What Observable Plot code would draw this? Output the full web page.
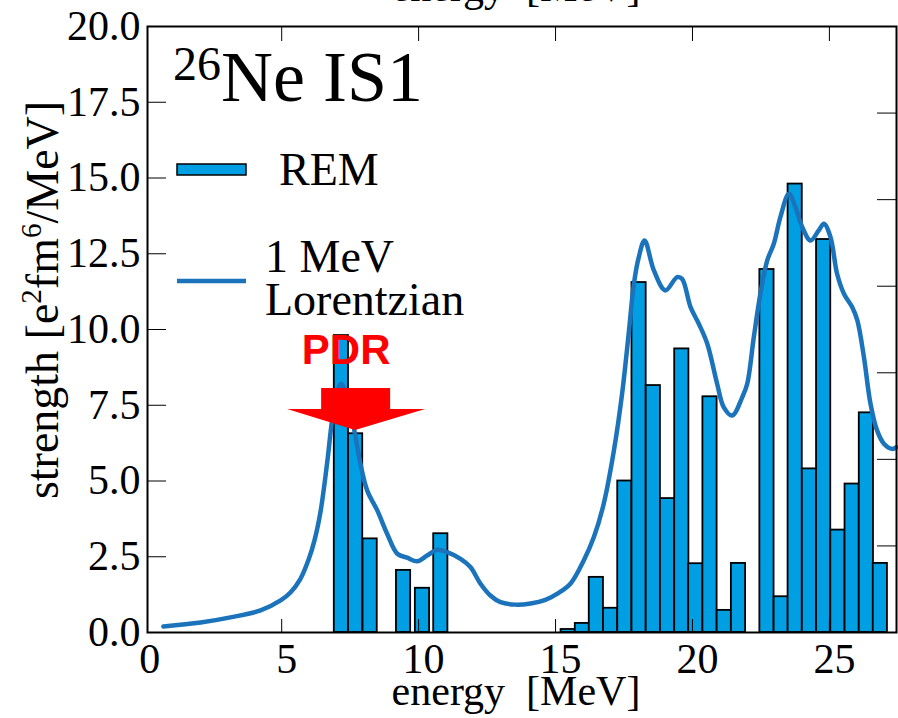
<!DOCTYPE html>
<html><head><meta charset="utf-8">
<script src="https://cdn.jsdelivr.net/npm/d3@7"></script>
<script src="https://cdn.jsdelivr.net/npm/@observablehq/plot@0.6"></script>
<style>body{margin:0;background:#fff} svg text{white-space:pre}</style>
</head><body><div id="chart"></div><script>
// REM strengths (bars)
const barEnergy = [7.18, 7.70, 8.23, 9.45, 10.14, 10.81, 15.46, 15.98, 16.49, 17.01, 17.53, 18.05, 18.57, 19.09, 19.61, 20.12, 20.64, 21.16, 21.68, 22.72, 23.24, 23.75, 24.27, 24.79, 25.31, 25.83, 26.35, 26.86];
const barStrength = [9.8, 6.56, 3.09, 2.05, 1.46, 3.26, 0.1, 0.3, 1.82, 0.8, 5.0, 11.55, 8.15, 4.42, 9.36, 2.27, 7.78, 0.73, 2.28, 11.98, 1.18, 14.8, 5.4, 12.97, 3.38, 4.9, 7.25, 2.28];
const barWidth = 0.5185; // MeV
// 1 MeV Lorentzian smoothed curve
const curveEnergy = [0.68,2.04,3.13,4.23,4.96,5.32,5.69,5.98,6.20,6.42,6.66,6.84,7.0,7.17,7.39,7.63,7.85,8.12,8.49,8.85,9.22,9.58,9.95,10.31,10.68,11.04,11.53,11.89,12.26,12.62,12.99,13.54,14.09,14.63,15.1,15.55,16.03,16.40,16.76,17.13,17.43,17.67,17.86,18.04,18.25,18.59,19.01,19.44,19.62,19.93,20.23,20.54,20.90,21.14,21.45,21.82,22.0,22.24,22.48,22.73,22.97,23.21,23.52,23.76,24.01,24.31,24.61,24.80,25.04,25.28,25.53,25.83,26.02,26.26,26.50,26.74,26.99,27.29,27.45];
const curveStrength = [0.20,0.33,0.50,0.73,1.06,1.32,1.78,2.40,3.05,4.00,5.60,7.0,7.82,8.2,7.77,6.78,5.68,4.69,4.03,3.26,2.60,2.47,2.35,2.54,2.73,2.65,2.43,2.16,1.61,1.22,1.00,0.92,0.96,1.08,1.30,1.62,2.38,3.15,4.25,6.0,7.88,9.86,11.5,12.39,12.94,11.95,11.29,11.73,11.67,10.74,10.19,9.53,8.21,7.44,7.16,7.77,8.21,9.75,11.18,12.28,12.83,13.71,14.48,14.04,13.38,12.94,13.27,13.49,13.05,11.84,11.18,10.74,10.30,9.09,7.55,6.67,6.23,6.06,6.12];
// ticks
const xTickLabels = [0, 5, 10, 15, 20, 25];
const xTickMarks = [5, 10, 15, 20, 25];
const yTicks = [0, 2.5, 5, 7.5, 10, 12.5, 15, 17.5, 20];
const yRightTicks = [1, 2, 3, 4, 5, 6].map(k => k * 20 / 7);
// annotation anchor (PDR arrow tip)
const pdrEnergy = 7.7, pdrStrength = 6.67;

const bars = barEnergy.map((e, i) => ({e, s: barStrength[i]}));
const curve = curveEnergy.map((e, i) => ({e, s: curveStrength[i]}));

const BAR = "#009fe3", LINE = "#1b74bb";
const serif = "Liberation Serif, Times New Roman, serif";

const chart = Plot.plot({
  width: 898, height: 718,
  marginLeft: 147, marginRight: 2, marginTop: 26, marginBottom: 86,
  x: {domain: [0.1, 27.45]},
  y: {domain: [0, 20]},
  style: {fontFamily: serif, fontSize: "42px", color: "black", background: "white", overflow: "visible"},
  marks: [
    Plot.rectY(bars, {x1: d => d.e - barWidth / 2, x2: d => d.e + barWidth / 2, y: "s", fill: BAR, stroke: "black", strokeWidth: 1.8}),
    Plot.line(curve, {x: "e", y: "s", stroke: LINE, strokeWidth: 4.5, curve: "catmull-rom"}),
    Plot.frame({stroke: "black", strokeWidth: 2}),
    Plot.axisX({anchor: "bottom", ticks: xTickMarks, tickSize: -13, fill: "none", label: null}),
    Plot.axisX({anchor: "bottom", ticks: xTickLabels, tickSize: 0, tickPadding: 11, dx: 5, tickFormat: d3.format("d"), label: null}),
    Plot.axisX({anchor: "top", ticks: xTickMarks, tickSize: -14, fill: "none", label: null}),
    Plot.axisY({anchor: "left", ticks: yTicks, tickSize: -19, tickPadding: 26, tickFormat: d3.format(".1f"), label: null}),
    Plot.axisY({anchor: "right", ticks: yRightTicks, tickSize: -20, fill: "none", label: null})
  ]
});
document.getElementById("chart").append(chart);

const svg = d3.select(chart);
const xs = chart.scale("x"), ys = chart.scale("y");
const g = svg.append("g").attr("font-family", serif).attr("fill", "black").attr("text-anchor", "start");

// cut-off label from the panel above (only its lowest part shows)
g.append("text").attr("x", 516).attr("y", 1).attr("text-anchor", "middle").attr("font-size", 42).text("energy  [MeV]");

// x axis title
g.append("text").attr("x", 516).attr("y", 705).attr("text-anchor", "middle").attr("font-size", 42).text("energy  [MeV]");

// y axis title
const yl = g.append("text").attr("transform", "translate(58,300) rotate(-90)").attr("text-anchor", "middle").attr("font-size", 46);
yl.append("tspan").text("strength [e");
yl.append("tspan").attr("font-size", 29).attr("dy", -17).text("2");
yl.append("tspan").attr("dy", 17).text("fm");
yl.append("tspan").attr("font-size", 29).attr("dy", -17).text("6");
yl.append("tspan").attr("dy", 17).text("/MeV]");

// panel title
const tt = g.append("text").attr("x", 173).attr("y", 101).attr("font-size", 72).attr("text-anchor", "start");
tt.append("tspan").attr("font-size", 48).attr("dy", -21).text("26");
tt.append("tspan").attr("dy", 21).text("Ne IS1");

// legend
g.append("rect").attr("x", 177).attr("y", 164).attr("width", 69).attr("height", 11).attr("fill", BAR).attr("stroke", "black").attr("stroke-width", 1.5);
g.append("text").attr("x", 279).attr("y", 185).attr("font-size", 46).attr("text-anchor", "start").text("REM");
g.append("line").attr("x1", 177).attr("x2", 246).attr("y1", 281).attr("y2", 281).attr("stroke", LINE).attr("stroke-width", 4.5);
g.append("text").attr("x", 265).attr("y", 272).attr("font-size", 46).attr("text-anchor", "start").text("1 MeV");
g.append("text").attr("x", 265).attr("y", 315).attr("font-size", 46).attr("text-anchor", "start").text("Lorentzian");

// PDR arrow
const tx = xs.apply(pdrEnergy), ty = ys.apply(pdrStrength);
const arrow = [[-34,-42],[35,-42],[35,-21],[70,-21],[0,0],[-68,-21],[-34,-21]].map(([a,b]) => [tx + a, ty + b]);
svg.append("polygon").attr("points", arrow.map(p => p.join(",")).join(" ")).attr("fill", "#ff0000");
svg.append("text").attr("x", tx - 9).attr("y", ty - 66).attr("text-anchor", "middle")
  .attr("font-family", "Liberation Sans, Arial, sans-serif").attr("font-weight", "bold").attr("font-size", 42)
  .attr("fill", "#ff0000").text("PDR");
</script></body></html>
